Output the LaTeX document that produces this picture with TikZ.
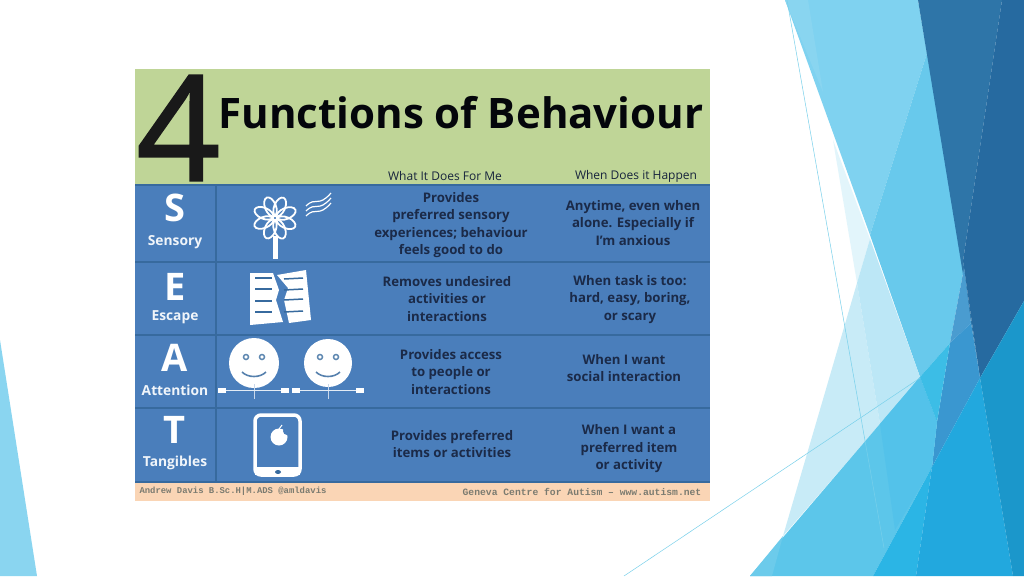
\documentclass[tikz,border=0pt]{standalone}
\usepackage{fontspec}
\setmainfont{Open Sans}
\setmonofont{Liberation Mono}
\newfontfamily\fourfont[FakeBold=1.6]{Open Sans}
\definecolor{chartgreen}{HTML}{BFD597}
\definecolor{chartblue}{HTML}{4A7EBB}
\definecolor{chartline}{HTML}{376A9E}
\definecolor{chartpeach}{HTML}{FAD5B5}
\definecolor{chartink}{HTML}{1B2A48}
\definecolor{footink}{HTML}{7B7B70}
\definecolor{slideline}{HTML}{78D0EB}
\tikzset{
    headtext/.style={font=\fontsize{12}{14}\selectfont, text=chartink!85!black},
    celltext/.style={font=\bfseries\fontsize{13.2}{17.5}\selectfont, text=chartink, align=center},
    bigletter/.style={font=\bfseries\fontsize{38}{40}\selectfont, text=white, inner sep=0pt},
    fnlabel/.style={font=\bfseries\fontsize{13.8}{14}\selectfont, text=white!92!chartblue, inner sep=0pt},
    footer/.style={text=footink},
    iconline/.style={draw=white, line width=1.8pt},
    thinline/.style={draw=slideline, line width=0.5pt},
    rowline/.style={draw=chartline, line width=1.5pt}
}
\begin{document}
\begin{tikzpicture}[x=1pt, y=-1pt]
    \useasboundingbox (0,0) rectangle (1024,576);
    \fill[white] (0,0) rectangle (1024,576);

    % slide background
    \fill[color={rgb,255:red,138;green,213;blue,240}] (0,340) -- (37,576) -- (0,576) -- cycle;
    \fill[color={rgb,255:red,127;green,210;blue,240}] (785,0) -- (918,0) -- (927,53) -- (870,235) -- cycle;
    \fill[color={rgb,255:red,137;green,213;blue,240}] (785,0) -- (808,0) -- (823,92) -- cycle;
    \fill[color={rgb,255:red,104;green,201;blue,236}] (927,53) -- (964,268) -- (950,343) -- (920,377) -- (870,235) -- cycle;
    \fill[color={rgb,255:red,226;green,245;blue,251}] (833,140) -- (870,239) -- (857,283) -- cycle;
    \fill[color={rgb,255:red,200;green,235;blue,247}] (857,283) -- (880,424) -- (783,536) -- cycle;
    \fill[color={rgb,255:red,188;green,231;blue,246}] (870,239) -- (920,377) -- (880,424) -- (857,283) -- cycle;
    \fill[color={rgb,255:red,46;green,117;blue,168}] (918,0) -- (1002,0) -- (963,261) -- (980,378) -- cycle;
    \fill[color={rgb,255:red,38;green,106;blue,160}] (1002,0) -- (1024,0) -- (1024,301) -- (980,378) -- (963,261) -- cycle;
    \fill[color={rgb,255:red,74;green,156;blue,208}] (964,268) -- (971,323) -- (950,343) -- cycle;
    \fill[color={rgb,255:red,58;green,151;blue,208}] (971,323) -- (980,378) -- (932,467) -- (937,422) -- (950,343) -- cycle;
    \fill[color={rgb,255:red,92;green,198;blue,234}] (920,377) -- (937,422) -- (932,467) -- (873,576) -- (750,576) -- cycle;
    \fill[color={rgb,255:red,108;green,203;blue,235}] (750,576) -- (772,576) -- (783,536) -- cycle;
    \fill[color={rgb,255:red,83;green,194;blue,234}] (880,424) -- (920,377) -- (937,422) -- (932,467) -- (895,530) -- cycle;
    \fill[color={rgb,255:red,60;green,189;blue,230}] (920,377) -- (950,343) -- (937,422) -- cycle;
    \fill[color={rgb,255:red,43;green,181;blue,229}] (932,467) -- (916,576) -- (873,576) -- cycle;
    \fill[color={rgb,255:red,34;green,168;blue,222}] (980,378) -- (1013,576) -- (916,576) -- (932,467) -- cycle;
    \fill[color={rgb,255:red,27;green,151;blue,203}] (980,378) -- (1024,301) -- (1024,576) -- (1013,576) -- cycle;
    \coordinate (linea) at (787,0);
    \coordinate (lineb) at (884,548);
    \coordinate (linec) at (624,576);
    \coordinate (lined) at (920,378);
    \draw[thinline] (linea) -- (lineb);
    \draw[thinline] (linec) -- (lined);

    % chart panels
    \fill[chartgreen] (135,69) rectangle (710,185);
    \fill[chartblue] (135,185) rectangle (710,482);
    \fill[chartpeach] (135,482) rectangle (710,501);
    \foreach \y in {185,262,335,408,482}
        \draw[rowline] (135,\y) -- (710,\y);
    \draw[rowline] (216,185) -- (216,482);

    % title
    \node (four) at (178.5,128) {\fourfont\fontsize{146}{146}\selectfont\color{black!90}4};
    \node[font=\bfseries\fontsize{42}{44}\selectfont, text=black!85!chartink] (title) at (461,113) {Functions of Behaviour};
    \node[headtext] (headdoes) at (445,176) {What It Does For Me};
    \node[headtext] (headwhen) at (636,176) {When Does it Happen};

    % first column
    \node[bigletter] (letters) at (175,208) {S};
    \node[fnlabel] (sensory) at (175,242) {Sensory};
    \node[bigletter] (lettere) at (175,287) {E};
    \node[fnlabel] (escape) at (175,317) {Escape};
    \node[bigletter] (lettera) at (175,358) {A};
    \node[fnlabel] (attention) at (175,390) {Attention};
    \node[bigletter] (lettert) at (175,430) {T};
    \node[fnlabel] (tangibles) at (175,463) {Tangibles};

    % flower
    \foreach \a in {0,45,...,315}
        \draw[iconline, shift={(275,218)}, rotate=\a+22] (12pt,0) ellipse [x radius=10pt, y radius=5.5pt];
    \fill[white] (272.5,236) rectangle (277.5,259);
    \foreach \d in {0,5,10}
        \draw[iconline, line width=1.2pt] (306,206+\d) .. controls (316,196+\d) and (318,208+\d) .. (331,193+\d);

    % torn page
    \fill[white] (250,273) -- (273,273) -- (279,290) -- (276,300) -- (283,322) -- (250,325) -- cycle;
    \fill[white] (277,275) -- (306,270) -- (311,320) -- (289,323) -- (284,300) -- (288,288) -- cycle;
    \foreach \y in {278,289,301,312}
        \draw[chartline, line width=1.5pt] (255,\y) -- (272,\y);
    \foreach \y in {279,290,300,312}
        \draw[chartline, line width=1.5pt] (284,\y) -- (303,\y-1);

    % two faces on a line
    \foreach \cx/\r in {254/25,328/24} {
        \fill[white] (\cx,363) circle[radius=\r pt];
        \draw[chartline!80!white, line width=1.5pt] (\cx-8,357) circle[radius=2.5pt];
        \draw[chartline!80!white, line width=1.5pt] (\cx+8,357) circle[radius=2.5pt];
        \draw[chartline!85!white, line width=1.6pt] (\cx-12,372) .. controls (\cx-6,378) and (\cx+6,378) .. (\cx+12,372);
        \draw[white!70!chartblue, line width=1pt] (\cx,384) -- (\cx,399);
    }
    \draw[white!85!chartblue, line width=1pt] (220,390) -- (286,390);
    \draw[white!85!chartblue, line width=1pt] (294,390) -- (361,390);
    \foreach \x in {222,285,296,360}
        \fill[white] (\x-4,387.5) rectangle (\x+4,392.5);

    % tablet
    \draw[white, line width=3.5pt, rounded corners=6pt] (255,415) rectangle (300,475);
    \fill[white] (255,467) rectangle (300,475);
    \fill[chartline] (278,472) ellipse [x radius=3pt, y radius=2pt];
    \fill[white] (279,437) circle[radius=8.5pt];
    \fill[chartblue] (287,431) circle[radius=4pt];
    \draw[white, line width=1pt] (279,429) -- (282,425);

    % cells
    \node[celltext] (doess) at (451,225) {Provides\\preferred sensory\\experiences; behaviour\\feels good to do};
    \node[celltext] (doese) at (447,299) {Removes undesired\\activities or\\interactions};
    \node[celltext] (doesa) at (451,372) {Provides access\\to people or\\interactions};
    \node[celltext] (doest) at (452,444) {Provides preferred\\items or activities};
    \node[celltext] (whens) at (633,223) {Anytime, even when\\alone. Especially if\\I'm anxious};
    \node[celltext] (whene) at (630,299.5) {When task is too:\\hard, easy, boring,\\or scary};
    \node[celltext] (whena) at (624,368) {When I want\\social interaction};
    \node[celltext] (whent) at (629,449) {When I want a\\preferred item\\or activity};

    % footer
    \node[footer, font=\ttfamily\bfseries\fontsize{8.9}{10}\selectfont] (footleft) at (233,491.5) {Andrew Davis B.Sc.H|M.ADS @amldavis};
    \node[footer, font=\ttfamily\bfseries\fontsize{9.7}{10}\selectfont] (footright) at (582,491.5) {Geneva Centre for Autism – www.autism.net};
\end{tikzpicture}
\end{document}
